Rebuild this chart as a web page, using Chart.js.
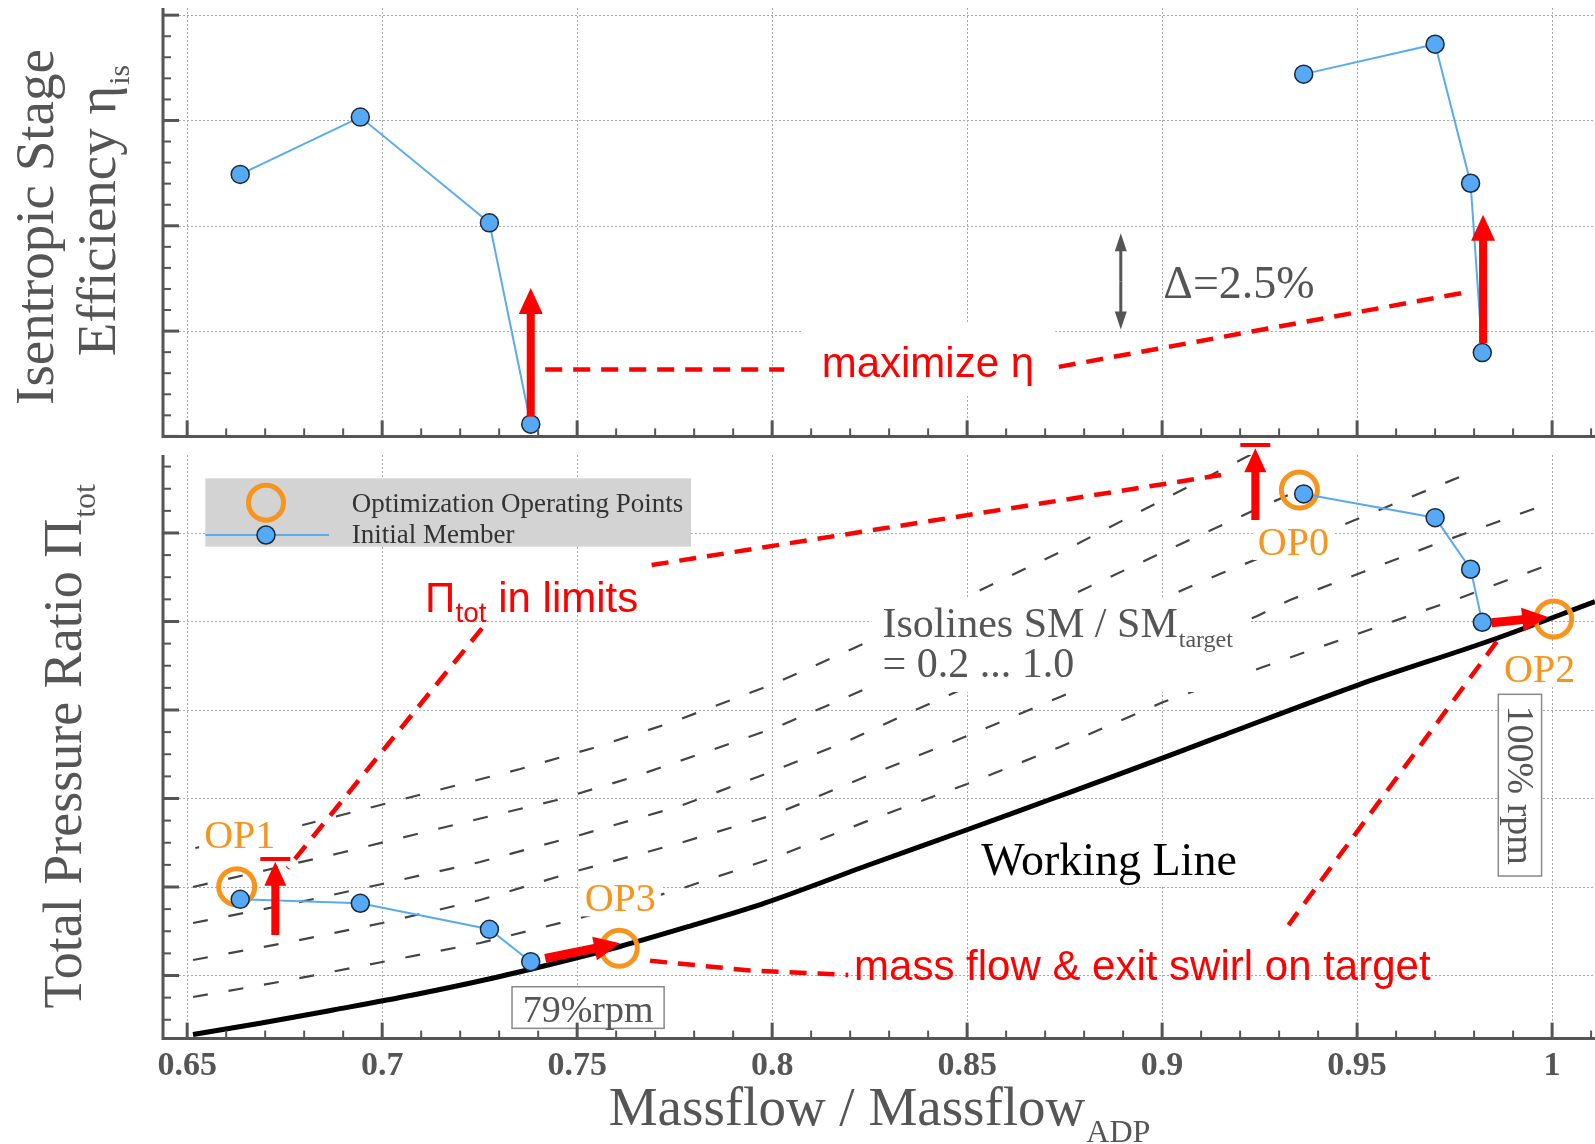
<!DOCTYPE html>
<html>
<head>
<meta charset="utf-8">
<script src="https://cdn.jsdelivr.net/npm/chart.js@4.4.1/dist/chart.umd.min.js"></script>
<style>
  html, body { margin: 0; padding: 0; background: #fff; overflow: hidden; }
  #wrap { position: relative; width: 1595px; height: 1144px; overflow: hidden; }
  canvas { display: block; position: absolute; left: 0; }
  #effChart { top: 0; }
  #prChart { top: 440px; }
</style>
</head>
<body>
<div id="wrap">
  <canvas id="effChart" width="1595" height="445"></canvas>
  <canvas id="prChart" width="1595" height="704"></canvas>
</div>
<script>
// --- values ---
const massflowTicks = [0.65, 0.7, 0.75, 0.8, 0.85, 0.9, 0.95, 1.0];
const massflowTickLabels = ['0.65', '0.7', '0.75', '0.8', '0.85', '0.9', '0.95', '1'];

const memberMassflow = [0.6636, 0.6944, 0.7275, 0.7381, 0.9363, 0.9700, 0.9791, 0.9821];
const memberEfficiency = [0.8622, 0.8758, 0.8507, 0.8029, 0.8860, 0.8931, 0.8601, 0.8199];
const memberPressure = [1.2861, 1.2816, 1.2522, 1.2156, 1.7441, 1.7173, 1.6590, 1.5991];
const memberSpeed = ['79%', '79%', '79%', '79%', '100%', '100%', '100%', '100%'];

const opNames = ['OP0', 'OP1', 'OP2', 'OP3'];
const opMassflow = [0.9352, 0.6627, 1.0004, 0.7608];
const opPressure = [1.7486, 1.3003, 1.6027, 1.2307];

const workingMassflow = [0.6515, 0.6687, 0.6874, 0.7079, 0.7285, 0.7456, 0.7610, 0.7790, 0.7977,
  0.8251, 0.8498, 0.8709, 0.8892, 0.9138, 0.9502, 0.9853, 1.0110];
const workingPressure = [1.1333, 1.1460, 1.1610, 1.1780, 1.1972, 1.2153, 1.2328, 1.2559, 1.2812,
  1.3254, 1.3644, 1.3983, 1.4277, 1.4684, 1.5282, 1.5802, 1.6224];

// surge margin isolines, SM / SM_target = 0.2 (top) ... 1.0 (bottom)
const sm02Massflow = [0.6521, 0.6797, 0.6986, 0.7174, 0.7354, 0.7541, 0.7738, 0.8004, 0.8251, 0.8508, 0.8782, 0.9021, 0.9256];
const sm02Pressure = [1.3441, 1.3701, 1.3915, 1.4130, 1.4333, 1.4571, 1.4853, 1.5294, 1.5780, 1.6299, 1.6876, 1.7418, 1.7949];
const sm04Massflow = [0.6515, 0.6704, 0.6892, 0.7079, 0.7268, 0.7448, 0.7636, 0.7830, 0.8013, 0.8187, 0.8279, 0.8585, 0.8790, 0.8987, 0.9226, 0.9341];
const sm04Pressure = [1.3000, 1.3192, 1.3384, 1.3588, 1.3791, 1.3983, 1.4232, 1.4525, 1.4808, 1.5136, 1.5316, 1.5938, 1.6345, 1.6751, 1.7237, 1.7463];
const sm06Massflow = [0.6515, 0.6790, 0.7000, 0.7251, 0.7508, 0.7764, 0.8003, 0.8200, 0.8362, 0.8454, 0.8713, 0.9064, 0.9154, 0.9482, 0.9769];
const sm06Pressure = [1.2593, 1.2831, 1.3034, 1.3282, 1.3588, 1.3915, 1.4311, 1.4661, 1.4989, 1.5169, 1.5678, 1.6379, 1.6548, 1.7124, 1.7644];
const sm08Massflow = [0.6515, 0.6764, 0.7000, 0.7251, 0.7508, 0.7764, 0.8003, 0.8251, 0.8500, 0.8738, 0.8995, 0.9244, 0.9328, 0.9515, 0.9695, 0.9859, 0.9995];
const sm08Pressure = [1.2175, 1.2379, 1.2593, 1.2853, 1.3192, 1.3497, 1.3814, 1.4266, 1.4706, 1.5147, 1.5610, 1.6062, 1.6243, 1.6559, 1.6864, 1.7124, 1.7339];
const sm10Massflow = [0.6515, 0.6764, 0.7000, 0.7251, 0.7508, 0.7764, 0.8003, 0.8251, 0.8500, 0.8738, 0.9003, 0.9259, 0.9515, 0.9764, 1.0003];
const sm10Pressure = [1.1757, 1.1949, 1.2153, 1.2367, 1.2650, 1.2977, 1.3328, 1.3757, 1.4164, 1.4582, 1.5090, 1.5486, 1.5881, 1.6266, 1.6661];

// --- look ---
const SERIF = '"Liberation Serif", "Times New Roman", serif';
const SANS = '"Liberation Sans", Arial, sans-serif';
const RED = '#ff0000';
const ORANGE = '#f7941d';
const BLUE = '#55a9f5';
const BLUE_LINE = '#5aaaf0';
const DARK = '#1b2838';
const GRAY = '#555555';
const GRID = '#a9a9a9';
const X_MIN = 0.6438, X_MAX = 1.011;

function pairs(xs, ys) {
  return xs.map((x, i) => ({ x: x, y: ys[i] }));
}

function speedPoints(speed, values) {
  const out = [];
  memberSpeed.forEach((s, i) => { if (s === speed) out.push({ x: memberMassflow[i], y: values[i] }); });
  return out;
}

function pt(chart, x, y) {
  return { x: chart.scales.x.getPixelForValue(x), y: chart.scales.y.getPixelForValue(y) };
}

function strokePath(ctx, pts) {
  ctx.beginPath();
  pts.forEach((p, i) => (i ? ctx.lineTo(p.x, p.y) : ctx.moveTo(p.x, p.y)));
  ctx.stroke();
}

function redDash(chart, xs, ys) {
  const ctx = chart.ctx;
  ctx.save();
  ctx.strokeStyle = RED;
  ctx.lineWidth = 4.5;
  ctx.setLineDash([17, 11]);
  strokePath(ctx, xs.map((x, i) => pt(chart, x, ys[i])));
  ctx.restore();
}

function arrow(ctx, a, b, shaft, headW, headL, color) {
  const dx = b.x - a.x, dy = b.y - a.y, len = Math.hypot(dx, dy);
  const ux = dx / len, uy = dy / len, nx = -uy, ny = ux;
  const bx = b.x - ux * headL, by = b.y - uy * headL;
  ctx.save();
  ctx.fillStyle = color;
  ctx.beginPath();
  ctx.moveTo(a.x + nx * shaft / 2, a.y + ny * shaft / 2);
  ctx.lineTo(bx + nx * shaft / 2, by + ny * shaft / 2);
  ctx.lineTo(bx + nx * headW / 2, by + ny * headW / 2);
  ctx.lineTo(b.x, b.y);
  ctx.lineTo(bx - nx * headW / 2, by - ny * headW / 2);
  ctx.lineTo(bx - nx * shaft / 2, by - ny * shaft / 2);
  ctx.lineTo(a.x - nx * shaft / 2, a.y - ny * shaft / 2);
  ctx.closePath();
  ctx.fill();
  ctx.restore();
}

function limitBar(ctx, p, half) {
  ctx.save();
  ctx.strokeStyle = RED;
  ctx.lineWidth = 4;
  ctx.beginPath();
  ctx.moveTo(p.x - half, p.y);
  ctx.lineTo(p.x + half, p.y);
  ctx.stroke();
  ctx.restore();
}

function whiteBox(ctx, a, b) {
  ctx.fillStyle = '#fff';
  ctx.fillRect(a.x, a.y, b.x - a.x, b.y - a.y);
}

function drawGrid(chart, step, ratio) {
  const { ctx, chartArea: area, scales: { x, y } } = chart;
  ctx.save();
  ctx.strokeStyle = GRID;
  ctx.lineWidth = 1;
  ctx.setLineDash([2, 2]);
  massflowTicks.forEach(v => {
    const px = Math.round(x.getPixelForValue(v)) + 0.5;
    strokePath(ctx, [{ x: px, y: area.top }, { x: px, y: area.bottom }]);
  });
  const k0 = Math.ceil(y.min / step - 1e-6), k1 = Math.floor(y.max / step + 1e-6);
  for (let k = k0; k <= k1; k++) {
    if (k % ratio !== 0) continue;
    const py = Math.round(y.getPixelForValue(k * step)) + 0.5;
    if (area.bottom - py < 3) continue;
    strokePath(ctx, [{ x: area.left, y: py }, { x: area.right, y: py }]);
  }
  ctx.restore();
}

function drawFrame(chart, step, ratio) {
  const { ctx, chartArea: area, scales: { x, y } } = chart;
  ctx.save();
  ctx.strokeStyle = GRAY;
  ctx.lineWidth = 3;
  ctx.beginPath();
  ctx.moveTo(area.left, area.top);
  ctx.lineTo(area.left, area.bottom);
  ctx.lineTo(area.right, area.bottom);
  ctx.stroke();
  const j0 = Math.ceil(x.min * 100 - 1e-6), j1 = Math.floor(x.max * 100 + 1e-6);
  for (let j = j0; j <= j1; j++) {
    const major = j % 5 === 0;
    const px = x.getPixelForValue(j / 100);
    ctx.lineWidth = major ? 3 : 2;
    strokePath(ctx, [{ x: px, y: area.bottom }, { x: px, y: area.bottom - (major ? 16 : 8) }]);
  }
  const k0 = Math.ceil(y.min / step - 1e-6), k1 = Math.floor(y.max / step + 1e-6);
  for (let k = k0; k <= k1; k++) {
    const major = k % ratio === 0;
    const py = y.getPixelForValue(k * step);
    ctx.lineWidth = major ? 3 : 2;
    strokePath(ctx, [{ x: area.left, y: py }, { x: area.left + (major ? 16 : 8), y: py }]);
  }
  ctx.restore();
}

function rotatedTitle(ctx, x, cy, main, sub, size, subSize, subDy) {
  ctx.save();
  ctx.translate(x, cy);
  ctx.rotate(-Math.PI / 2);
  ctx.fillStyle = GRAY;
  ctx.textBaseline = 'alphabetic';
  ctx.textAlign = 'left';
  ctx.font = size + 'px ' + SERIF;
  const w1 = ctx.measureText(main).width;
  ctx.font = subSize + 'px ' + SERIF;
  const w2 = sub ? ctx.measureText(sub).width : 0;
  const start = -(w1 + w2) / 2;
  ctx.font = size + 'px ' + SERIF;
  ctx.fillText(main, start, 0);
  if (sub) {
    ctx.font = subSize + 'px ' + SERIF;
    ctx.fillText(sub, start + w1 + 1, subDy);
  }
  ctx.restore();
}

function memberDataset(label, data) {
  return {
    label: label,
    data: data,
    borderColor: BLUE_LINE,
    borderWidth: 2,
    pointRadius: 9,
    pointBackgroundColor: BLUE,
    pointBorderColor: DARK,
    pointBorderWidth: 1.5,
    tension: 0,
    order: 1
  };
}

function baseOptions(yMin, yMax, padding) {
  return {
    animation: false,
    responsive: false,
    devicePixelRatio: 1,
    layout: { padding: padding, autoPadding: false },
    scales: {
      x: { type: 'linear', min: X_MIN, max: X_MAX, display: false },
      y: { type: 'linear', min: yMin, max: yMax, display: false }
    },
    plugins: { legend: { display: false }, tooltip: { enabled: false } }
  };
}

// --- top: isentropic stage efficiency ---
const effFrame = {
  id: 'effFrame',
  beforeDatasetsDraw(chart) {
    drawGrid(chart, 0.005, 5);
    whiteBox(chart.ctx, pt(chart, 0.8079, 0.8269), pt(chart, 0.8726, 0.8098));
  },
  afterDatasetsDraw(chart) {
    const ctx = chart.ctx;
    redDash(chart, [0.7418, 0.8031], [0.8159, 0.8159]);
    redDash(chart, [0.8735, 0.9767], [0.8165, 0.8340]);
    arrow(ctx, pt(chart, 0.7381, 0.8047), pt(chart, 0.7381, 0.8352), 8, 24, 26, RED);
    arrow(ctx, pt(chart, 0.9823, 0.8221), pt(chart, 0.9823, 0.8526), 8, 24, 26, RED);

    ctx.save();
    ctx.fillStyle = RED;
    ctx.font = '42px ' + SANS;
    const m = pt(chart, 0.8127, 0.8142);
    ctx.fillText('maximize \u03b7', m.x, m.y);

    const dTop = pt(chart, 0.8894, 0.8482), dBot = pt(chart, 0.8894, 0.8254);
    const mid = { x: dTop.x, y: (dTop.y + dBot.y) / 2 };
    arrow(ctx, mid, dTop, 3, 12, 18, GRAY);
    arrow(ctx, mid, dBot, 3, 12, 18, GRAY);
    ctx.fillStyle = GRAY;
    ctx.font = '46px ' + SERIF;
    const d = pt(chart, 0.9003, 0.8329);
    ctx.fillText('\u0394=2.5%', d.x, d.y);
    ctx.restore();

    drawFrame(chart, 0.005, 5);
    rotatedTitle(ctx, 53, 227, 'Isentropic Stage', '', 55, 30, 0);
    rotatedTitle(ctx, 115, 211, 'Efficiency \u03b7', 'is', 55, 30, 14);
  }
};

new Chart(document.getElementById('effChart'), {
  type: 'line',
  data: {
    datasets: [
      memberDataset('Initial Member 79%', speedPoints('79%', memberEfficiency)),
      memberDataset('Initial Member 100%', speedPoints('100%', memberEfficiency))
    ]
  },
  options: baseOptions(0.80, 0.9017, { left: 163, right: 0, top: 8, bottom: 8.6 }),
  plugins: [effFrame]
});

// --- bottom: total pressure ratio ---
function isoline(label, xs, ys) {
  return {
    label: label,
    data: pairs(xs, ys),
    borderColor: '#444',
    borderWidth: 2.2,
    borderDash: [15, 21],
    pointRadius: 0,
    tension: 0,
    order: 5
  };
}

const opLabelOffsets = [[-6, 65], [3, -39], [-14, 63], [1, -37]];

function drawPrNotes(chart) {
  const ctx = chart.ctx;
  ctx.save();
  // isolines label
  whiteBox(ctx, pt(chart, 0.8254, 1.6266), pt(chart, 0.9228, 1.5203));
  ctx.fillStyle = GRAY;
  ctx.textAlign = 'left';
  ctx.font = '42px ' + SERIF;
  const iso = pt(chart, 0.8283, 1.5819);
  ctx.fillText('Isolines SM / SM', iso.x, iso.y);
  const wIso = ctx.measureText('Isolines SM / SM').width;
  ctx.font = '24px ' + SERIF;
  ctx.fillText('target', iso.x + wIso + 1, iso.y + 10);
  ctx.font = '42px ' + SERIF;
  const iso2 = pt(chart, 0.8283, 1.5375);
  ctx.fillText('= 0.2 ... 1.0', iso2.x, iso2.y);

  // operating point names
  ctx.font = '40px ' + SERIF;
  ctx.textAlign = 'center';
  opNames.forEach((name, i) => {
    const c = pt(chart, opMassflow[i], opPressure[i]);
    const lx = c.x + opLabelOffsets[i][0], ly = c.y + opLabelOffsets[i][1];
    const w = ctx.measureText(name).width;
    ctx.fillStyle = '#fff';
    ctx.fillRect(lx - w / 2 - 5, ly - 31, w + (i === 1 ? 32 : 10), 36);
    ctx.fillStyle = ORANGE;
    ctx.fillText(name, lx, ly);
  });

  // working line label
  ctx.textAlign = 'left';
  ctx.font = '46px ' + SERIF;
  const wl = pt(chart, 0.8536, 1.3136);
  const wWl = ctx.measureText('Working Line').width;
  ctx.fillStyle = '#fff';
  ctx.fillRect(wl.x - 5, wl.y - 35, wWl + 10, 46);
  ctx.fillStyle = '#000';
  ctx.fillText('Working Line', wl.x, wl.y);

  // speed line boxes
  ctx.strokeStyle = '#888';
  ctx.lineWidth = 1.5;
  const r1 = pt(chart, 0.7333, 1.1873), r2 = pt(chart, 0.7723, 1.1403);
  whiteBox(ctx, r1, r2);
  ctx.strokeRect(r1.x, r1.y, r2.x - r1.x, r2.y - r1.y);
  ctx.fillStyle = GRAY;
  ctx.font = '38px ' + SERIF;
  ctx.textAlign = 'center';
  const t79 = pt(chart, 0.7528, 1.1478);
  ctx.fillText('79%rpm', t79.x, t79.y);

  const s1 = pt(chart, 0.9862, 1.5177), s2 = pt(chart, 0.9973, 1.3124);
  whiteBox(ctx, s1, s2);
  ctx.strokeRect(s1.x, s1.y, s2.x - s1.x, s2.y - s1.y);
  ctx.translate((s1.x + s2.x) / 2, (s1.y + s2.y) / 2);
  ctx.rotate(Math.PI / 2);
  ctx.fillStyle = GRAY;
  ctx.textBaseline = 'middle';
  ctx.fillText('100% rpm', 0, 2);
  ctx.restore();
}

function drawLegend(chart) {
  const ctx = chart.ctx, area = chart.chartArea;
  const lx = area.left + 42.4, ly = area.top + 23.3;
  ctx.save();
  ctx.fillStyle = '#d3d3d3';
  ctx.fillRect(lx, ly, 485.6, 68.4);
  ctx.strokeStyle = ORANGE;
  ctx.lineWidth = 5;
  ctx.beginPath();
  ctx.arc(lx + 60.6, ly + 24.4, 17.5, 0, Math.PI * 2);
  ctx.stroke();
  ctx.strokeStyle = BLUE_LINE;
  ctx.lineWidth = 2;
  strokePath(ctx, [{ x: lx, y: ly + 56.7 }, { x: lx + 123.6, y: ly + 56.7 }]);
  ctx.fillStyle = BLUE;
  ctx.strokeStyle = DARK;
  ctx.lineWidth = 1.5;
  ctx.beginPath();
  ctx.arc(lx + 60.6, ly + 56.7, 9, 0, Math.PI * 2);
  ctx.fill();
  ctx.stroke();
  ctx.fillStyle = '#333';
  ctx.font = '27px ' + SERIF;
  ctx.fillText('Optimization Operating Points', lx + 146.3, ly + 33.4);
  ctx.fillText('Initial Member', lx + 146.3, ly + 64.7);
  ctx.restore();
}

const prFrame = {
  id: 'prFrame',
  beforeDatasetsDraw(chart) {
    drawGrid(chart, 0.025, 4);
  },
  afterDatasetDraw(chart, args) {
    if (chart.data.datasets[args.index].label === 'Working Line') drawPrNotes(chart);
  },
  afterDatasetsDraw(chart) {
    const ctx = chart.ctx;
    // pressure ratio limits
    redDash(chart, [0.7691, 0.9151], [1.6638, 1.7655]);
    redDash(chart, [0.7256, 0.6757], [1.5923, 1.3211]);
    arrow(ctx, pt(chart, 0.9239, 1.7147), pt(chart, 0.9239, 1.7957), 8, 22, 24, RED);
    limitBar(ctx, pt(chart, 0.9239, 1.7994), 15);
    arrow(ctx, pt(chart, 0.6726, 1.2458), pt(chart, 0.6726, 1.3286), 8, 22, 24, RED);
    limitBar(ctx, pt(chart, 0.6726, 1.3316), 15);
    // mass flow targets
    redDash(chart, [0.7687, 0.7944, 0.8195], [1.2167, 1.2056, 1.2006]);
    redDash(chart, [0.9858, 0.9324], [1.5772, 1.2570]);
    arrow(ctx, pt(chart, 0.7418, 1.2194), pt(chart, 0.7610, 1.2364), 9, 24, 26, RED);
    arrow(ctx, pt(chart, 0.9845, 1.5986), pt(chart, 0.9990, 1.6050), 9, 24, 26, RED);

    ctx.save();
    ctx.fillStyle = RED;
    ctx.textAlign = 'left';
    ctx.font = '42px ' + SANS;
    const p = pt(chart, 0.7110, 1.6111);
    ctx.fillText('\u03a0', p.x, p.y);
    const wPi = ctx.measureText('\u03a0').width;
    ctx.font = '28px ' + SANS;
    ctx.fillText('tot', p.x + wPi, p.y + 10);
    const wTot = ctx.measureText('tot').width;
    ctx.font = '42px ' + SANS;
    ctx.fillText(' in limits', p.x + wPi + wTot, p.y);
    const mf = pt(chart, 0.8210, 1.1949);
    ctx.fillText('mass flow & exit swirl on target', mf.x, mf.y);
    ctx.restore();

    drawLegend(chart);
    drawFrame(chart, 0.025, 4);

    // x tick labels and title
    const area = chart.chartArea;
    ctx.save();
    ctx.fillStyle = GRAY;
    ctx.textAlign = 'center';
    ctx.textBaseline = 'middle';
    ctx.font = 'bold 34px ' + SERIF;
    massflowTicks.forEach((v, i) => {
      ctx.fillText(massflowTickLabels[i], chart.scales.x.getPixelForValue(v), area.bottom + 27.5);
    });
    ctx.textBaseline = 'alphabetic';
    ctx.textAlign = 'left';
    ctx.font = '55px ' + SERIF;
    const main = 'Massflow / Massflow';
    const w1 = ctx.measureText(main).width;
    ctx.font = '32px ' + SERIF;
    const w2 = ctx.measureText('ADP').width;
    const cx = (area.left + area.right) / 2 - (w1 + w2) / 2;
    ctx.font = '55px ' + SERIF;
    ctx.fillText(main, cx, area.bottom + 86.5);
    ctx.font = '32px ' + SERIF;
    ctx.fillText('ADP', cx + w1 + 1, area.bottom + 103);
    ctx.restore();

    rotatedTitle(ctx, 81, (area.top + area.bottom) / 2, 'Total Pressure Ratio \u03a0', 'tot', 54, 32, 14);
  }
};

new Chart(document.getElementById('prChart'), {
  type: 'line',
  data: {
    datasets: [
      isoline('SM/SMtarget = 0.2', sm02Massflow, sm02Pressure),
      isoline('SM/SMtarget = 0.4', sm04Massflow, sm04Pressure),
      isoline('SM/SMtarget = 0.6', sm06Massflow, sm06Pressure),
      isoline('SM/SMtarget = 0.8', sm08Massflow, sm08Pressure),
      isoline('SM/SMtarget = 1.0', sm10Massflow, sm10Pressure),
      {
        label: 'Working Line',
        data: pairs(workingMassflow, workingPressure),
        borderColor: '#000',
        borderWidth: 5,
        pointRadius: 0,
        cubicInterpolationMode: 'monotone',
        order: 4
      },
      {
        label: 'Optimization Operating Points',
        data: pairs(opMassflow, opPressure),
        showLine: false,
        pointRadius: 18,
        pointBorderWidth: 5,
        pointBorderColor: ORANGE,
        pointBackgroundColor: 'rgba(0,0,0,0)',
        order: 2
      },
      memberDataset('Initial Member 79%', speedPoints('79%', memberPressure)),
      memberDataset('Initial Member 100%', speedPoints('100%', memberPressure))
    ]
  },
  options: baseOptions(1.1287, 1.7881, { left: 163, right: 0, top: 15, bottom: 105.4 }),
  plugins: [prFrame]
});
</script>
</body>
</html>
